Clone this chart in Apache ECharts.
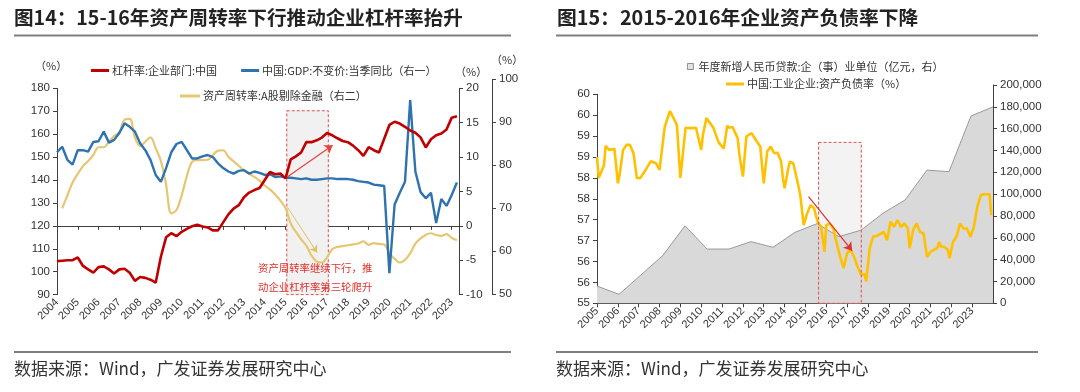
<!DOCTYPE html>
<html><head><meta charset="utf-8">
<script src="https://cdn.jsdelivr.net/npm/echarts@6/dist/echarts.min.js"></script>
<style>html,body{margin:0;padding:0;background:#fff}#c{width:1080px;height:392px}</style>
</head><body><div id="c"></div>
<script>
// ---------- LEFT CHART DATA (quarterly, 2004Q1 - 2023Q2) ----------
const leftYears = [2004,2005,2006,2007,2008,2009,2010,2011,2012,2013,2014,2015,2016,2017,2018,2019,2020,2021,2022,2023];
const quarters = [];
leftYears.forEach(y => { for (let q = 1; q <= 4; q++) { if (y === 2023 && q > 2) break; quarters.push(y + 'Q' + q); } });

const leverage = [
  104.6,104.8,105.0,105.0, 106.2,102.5,101.0,99.6, 102.0,102.3,101.0,99.2, 101.0,101.3,99.5,96.0,
  97.7,97.3,96.5,95.2, 106.5,115.0,116.8,115.5, 117.4,118.7,119.8,120.5, 119.7,119.3,118.0,118.0,
  121.5,125.0,127.5,129.0, 132.5,134.5,135.6,136.5, 140.0,143.5,142.5,142.8, 140.7,149.0,150.3,152.0,
  156.5,156.5,157.3,158.5, 160.5,159.5,158.2,157.0, 156.5,155.0,153.0,150.5, 154.3,153.0,152.0,158.0,
  164.0,165.4,164.6,163.2, 161.6,160.6,158.6,154.2, 157.8,159.5,160.3,162.0, 167.2,167.8
];
const gdp = [
  10.7,11.5,9.6,8.9, 11.0,11.0,10.8,12.2, 12.3,13.7,12.1,12.5, 13.5,14.9,14.4,13.7,
  12.0,11.0,9.6,7.4, 6.4,8.4,10.7,11.9, 12.2,11.0,9.8,9.8, 10.1,10.3,10.0,9.1,
  8.4,7.9,7.6,8.0, 8.1,7.6,7.9,7.7, 7.4,7.5,7.1,7.2, 7.0,7.0,6.9,6.8,
  6.9,6.7,6.7,6.8, 6.9,6.9,6.8,6.8, 6.8,6.7,6.5,6.4, 6.3,6.0,5.9,5.8,
  -6.9,3.1,4.8,6.4, 18.3,7.9,4.9,4.0, 4.8,0.4,3.9,2.9, 4.5,6.3
];
const turnover = [
  null,70.0,73.0,76.0, 78.0,79.8,81.0,82.4, 84.2,84.2,85.5,86.8, 87.7,90.6,90.8,86.5,
  84.5,85.5,86.5,84.0, 81.0,75.5,68.8,69.6, 73.0,77.5,80.8,81.2, 81.2,81.3,82.4,83.4,
  83.5,82.0,80.9,79.9, 78.8,78.0,77.3,76.4, 75.3,74.4,73.2,71.8, 70.0,66.5,64.5,62.8,
  61.3,59.0,57.6,57.4, 58.6,60.5,61.0,61.2, 61.4,61.6,61.8,62.3, 61.5,61.9,61.7,61.6,
  59.5,58.3,57.4,58.0, 59.5,61.8,63.0,63.8, 64.2,63.8,63.6,64.0, 63.1,62.6
];

// ---------- RIGHT CHART DATA ----------
const loanYears = ['2005','2006','2007','2008','2009','2010','2011','2012','2013','2014','2015','2016','2017','2018','2019','2020','2021','2022','2023'];
const newLoans = [15800,8200,26000,44000,71000,49700,49700,56500,51300,65000,73000,61000,67000,82500,94600,122000,120600,171600,180000];

const debtMonths = ['2005-01','2005-02','2005-05','2005-06','2005-08','2005-09','2005-11','2005-12',
 '2006-01','2006-02','2006-04','2006-06','2006-08','2006-10','2006-12','2007-02','2007-05','2007-08','2007-11',
 '2008-01','2008-04','2008-07','2008-08','2008-11','2009-01','2009-04','2009-07','2009-10','2009-11',
 '2010-01','2010-02','2010-04','2010-08','2010-11','2011-02','2011-04','2011-05','2011-07','2011-10','2011-11',
 '2012-01','2012-03','2012-06','2012-09','2012-11','2013-01','2013-03','2013-05','2013-07','2013-09','2013-11','2013-12',
 '2014-01','2014-03','2014-04','2014-06','2014-08','2014-10','2014-12','2015-02','2015-04','2015-06','2015-08','2015-10','2015-12',
 '2016-01','2016-03','2016-05','2016-07','2016-09','2016-11','2017-01','2017-03','2017-05','2017-07','2017-09','2017-11','2017-12',
 '2018-02','2018-04','2018-07','2018-10','2018-12','2019-02','2019-04','2019-06','2019-08','2019-10','2019-12',
 '2020-01','2020-03','2020-05','2020-07','2020-09','2020-11','2021-01','2021-03','2021-05','2021-06','2021-07','2021-09','2021-11','2021-12',
 '2022-02','2022-04','2022-06','2022-08','2022-10','2022-12','2023-02','2023-04','2023-06','2023-08','2023-11','2023-12'];
const debtRatio = [58.5,58.0,58.3,58.77,58.67,58.7,58.7,58.3,
 57.87,58.07,58.67,58.79,58.79,58.59,57.99,58.0,58.19,58.4,58.35,
 58.19,59.22,59.6,59.57,59.27,58.0,59.2,59.19,59.2,59.22,
 58.67,59.03,59.43,59.2,58.85,58.7,59.25,59.2,59.22,58.95,58.55,
 58.03,58.99,59.07,58.87,58.75,57.87,58.63,58.75,58.59,58.6,58.39,58.0,
 57.75,58.2,58.39,58.35,57.99,57.6,56.87,57.15,57.35,57.27,56.95,56.83,56.23,
 56.87,56.91,56.79,56.44,56.11,55.84,56.2,56.28,56.11,55.88,55.68,55.7,55.52,
 56.32,56.59,56.63,56.71,56.51,56.95,56.83,56.99,56.83,56.91,56.79,
 56.32,56.75,56.91,56.71,56.67,56.11,56.23,56.28,56.32,56.47,56.36,56.35,56.28,56.08,
 56.47,56.59,56.91,56.79,56.79,56.59,56.83,57.31,57.59,57.61,57.61,57.11];
const debtAxisLabels = ['55','56','56','57','57','58','58','59','59','60','60'];

// ---------- helpers ----------
const qToNum = s => +s.slice(0,4) + (+s.slice(5) - 1) / 4;
const mToNum = s => +s.slice(0,4) + (+s.slice(5,7) - 1) / 12;
const leftYearTicks = leftYears.slice();
const rightYearTicks = []; for (let y = 2005; y <= 2023; y++) rightYearTicks.push(y);

const AX = '#404040';
const NUM_FONT = 'Liberation Sans, Arial, sans-serif';
const CJK = '"Noto Sans CJK SC", sans-serif';

function xAxisVisible(grid, min, max, ticks) {
  return {
    type: 'value', gridIndex: grid, min: min, max: max,
    splitLine: {show: false},
    axisLine: {lineStyle: {color: AX, width: 1}},
    axisTick: {show: true, length: 4, lineStyle: {color: AX}, customValues: ticks},
    axisLabel: {rotate: 45, fontSize: 11, color: '#333', fontFamily: NUM_FONT, margin: 6, customValues: ticks,
                formatter: v => String(Math.round(v))}
  };
}
function yAxisBase(o) {
  return Object.assign({
    type: 'value', splitLine: {show: false},
    axisLine: {show: true, lineStyle: {color: AX, width: 1}},
    axisTick: {show: true, length: 4, lineStyle: {color: AX}},
    axisLabel: {fontSize: 11.5, color: '#333', fontFamily: NUM_FONT, margin: 7}
  }, o);
}

const chart = echarts.init(document.getElementById('c'), null, {renderer: 'canvas'});
const option = {
  animation: false,
  backgroundColor: '#fff',
  grid: [
    {left: 57, top: 88.3, width: 402, height: 206.3},
    {left: 57, top: 79.3, width: 402, height: 215},
    {left: 597, top: 94.3, width: 396, height: 209},
    {left: 597, top: 85, width: 396, height: 218.3}
  ],
  xAxis: [
    xAxisVisible(0, 2004, 2023.35, leftYearTicks),
    {type: 'value', gridIndex: 1, min: 2004, max: 2023.35, show: false},
    xAxisVisible(2, 2005, 2024, rightYearTicks),
    {type: 'category', gridIndex: 3, data: loanYears, boundaryGap: false, show: false}
  ],
  yAxis: [
    yAxisBase({gridIndex: 0, position: 'left', min: 90, max: 180, interval: 10}),
    yAxisBase({gridIndex: 0, position: 'right', min: -10, max: 20, interval: 5}),
    yAxisBase({gridIndex: 1, position: 'right', offset: 33, min: 50, max: 100, interval: 10}),
    yAxisBase({gridIndex: 2, position: 'left', min: 55, max: 60, interval: 0.5,
      axisLabel: {fontSize: 11.5, color: '#333', fontFamily: NUM_FONT, margin: 7,
        formatter: (v) => debtAxisLabels[Math.round((v - 55) * 2)]}}),
    yAxisBase({gridIndex: 3, position: 'right', min: 0, max: 200000, interval: 20000,
      axisLabel: {fontSize: 11.5, color: '#333', fontFamily: NUM_FONT, margin: 7,
        formatter: v => v.toLocaleString('en-US')}})
  ],
  legend: [
    {left: 86, top: 60, itemWidth: 18, itemHeight: 3, itemGap: 24, icon: 'rect',
     textStyle: {fontSize: 11, color: '#333', fontFamily: CJK, padding: [0,0,0,-2]},
     data: ['杠杆率:企业部门:中国', '中国:GDP:不变价:当季同比（右一）']},
    {left: 175, top: 85.5, itemWidth: 20, itemHeight: 3, icon: 'rect',
     textStyle: {fontSize: 11, color: '#333', fontFamily: CJK, padding: [0,0,0,-2]},
     data: ['资产周转率:A股剔除金融（右二）']},
    {left: 682, top: 56, itemWidth: 6, itemHeight: 6, icon: 'rect',
     textStyle: {fontSize: 11, color: '#333', fontFamily: CJK},
     data: [{name: '年度新增人民币贷款:企（事）业单位（亿元，右）', itemStyle: {color: '#e3e3e3', borderColor: '#777', borderWidth: 0.8}}]},
    {left: 721, top: 73.5, itemWidth: 18, itemHeight: 3, icon: 'rect',
     textStyle: {fontSize: 11, color: '#333', fontFamily: CJK, padding: [0,0,0,-2]},
     data: ['中国:工业企业:资产负债率（%）']}
  ],
  series: [
    {type: 'line', name: '_boxL', xAxisIndex: 0, yAxisIndex: 0, data: [], z: 1, silent: true,
     markArea: {silent: true, z: 1, itemStyle: {color: '#f1f1f1', borderColor: '#e05050', borderWidth: 1, borderType: [3, 2]},
       data: [[{coord: [2015.06, 170.2]}, {coord: [2017.06, 90]}]]}},
    {type: 'line', name: '杠杆率:企业部门:中国', xAxisIndex: 0, yAxisIndex: 0, z: 4,
     data: quarters.map((q, i) => [qToNum(q), leverage[i]]),
     symbol: 'none', lineStyle: {color: '#C00000', width: 2.6}, itemStyle: {color: '#C00000'},
     markLine: {silent: true, symbol: ['none', 'arrow'], symbolSize: 8, label: {show: false},
       lineStyle: {color: '#e8413a', width: 1.2, type: 'solid'},
       data: [[{coord: [2015.08, 141.3]}, {coord: [2017.27, 155.2]}]]}},
    {type: 'line', name: '中国:GDP:不变价:当季同比（右一）', xAxisIndex: 0, yAxisIndex: 1, z: 3,
     data: quarters.map((q, i) => [qToNum(q), gdp[i]]),
     symbol: 'none', lineStyle: {color: '#2E72B0', width: 2.4}, itemStyle: {color: '#2E72B0'}},
    {type: 'line', name: '资产周转率:A股剔除金融（右二）', xAxisIndex: 1, yAxisIndex: 2, z: 2,
     data: quarters.map((q, i) => [qToNum(q), turnover[i]]), smooth: 0.35, connectNulls: false,
     symbol: 'none', lineStyle: {color: '#E6C670', width: 2.2}, itemStyle: {color: '#E6C670'},
     markLine: {silent: true, symbol: ['none', 'arrow'], symbolSize: 7, label: {show: false},
       lineStyle: {color: '#e0c060', width: 1, type: 'solid'},
       data: [[{coord: [2015.1, 70.2]}, {coord: [2016.52, 59.7]}]]}},
    {type: 'line', name: '_boxR', xAxisIndex: 2, yAxisIndex: 3, data: [], z: 1, silent: true,
     markArea: {silent: true, z: 1, itemStyle: {color: '#f3f3f3'},
       data: [[{coord: [2015.63, 58.85]}, {coord: [2017.68, 55]}]]}},
    {type: 'line', name: '年度新增人民币贷款:企（事）业单位（亿元，右）', xAxisIndex: 3, yAxisIndex: 4, z: 2,
     data: newLoans, symbol: 'none',
     lineStyle: {color: '#9a9a9a', width: 1}, itemStyle: {color: '#d9d9d9'},
     areaStyle: {color: '#d9d9d9', opacity: 1}},
    {type: 'line', name: '中国:工业企业:资产负债率（%）', xAxisIndex: 2, yAxisIndex: 3, z: 4,
     data: debtMonths.map((m, i) => [mToNum(m), debtRatio[i]]),
     symbol: 'none', lineStyle: {color: '#FFC000', width: 2.6}, itemStyle: {color: '#FFC000'},
     markArea: {silent: true, z: 5, itemStyle: {color: 'rgba(0,0,0,0)', borderColor: '#e05050', borderWidth: 1, borderType: [3, 2]},
       data: [[{coord: [2015.63, 58.85]}, {coord: [2017.68, 55]}]]},
     markLine: {silent: true, symbol: ['none', 'arrow'], symbolSize: 8, label: {show: false},
       lineStyle: {color: '#e0302a', width: 1.2, type: 'solid'},
       data: [[{coord: [2015.15, 57.55]}, {coord: [2017.24, 56.26]}]]}}
  ],
  graphic: [
    {type: 'text', z: 100, left: 14, top: 8, style: {text: '图14：15-16年资产周转率下行推动企业杠杆率抬升', font: 'bold 19.6px "Noto Sans CJK SC"', fill: '#222'}},
    {type: 'text', z: 100, left: 557, top: 8, style: {text: '图15：2015-2016年企业资产负债率下降', font: 'bold 19.8px "Noto Sans CJK SC"', fill: '#222'}},
    {type: 'rect', z: 100, shape: {x: 14, y: 34.5, width: 497, height: 2}, style: {fill: '#7f7f7f'}},
    {type: 'rect', z: 100, shape: {x: 556, y: 34.5, width: 482, height: 2}, style: {fill: '#7f7f7f'}},
    {type: 'rect', z: 100, shape: {x: 14, y: 351, width: 497, height: 2}, style: {fill: '#7f7f7f'}},
    {type: 'rect', z: 100, shape: {x: 556, y: 351, width: 482, height: 2}, style: {fill: '#7f7f7f'}},
    {type: 'text', z: 100, left: 14, top: 360, style: {text: '数据来源：Wind，广发证券发展研究中心', font: '17px "Noto Sans CJK SC"', fill: '#333'}},
    {type: 'text', z: 100, left: 556, top: 360, style: {text: '数据来源：Wind，广发证券发展研究中心', font: '17px "Noto Sans CJK SC"', fill: '#333'}},
    {type: 'text', z: 100, left: 35, top: 60, style: {text: '（%）', font: '11px "Noto Sans CJK SC"', fill: '#333'}},
    {type: 'text', z: 100, left: 455, top: 66, style: {text: '（%）', font: '11px "Noto Sans CJK SC"', fill: '#333'}},
    {type: 'text', z: 100, left: 491, top: 54, style: {text: '（%）', font: '11px "Noto Sans CJK SC"', fill: '#333'}},
    {type: 'text', z: 100, left: 258, top: 263, style: {text: '资产周转率继续下行，推', font: '10.4px "Noto Sans CJK SC"', fill: '#e0302a'}},
    {type: 'text', z: 100, left: 258, top: 282, style: {text: '动企业杠杆率第三轮爬升', font: '10.4px "Noto Sans CJK SC"', fill: '#e0302a'}}
  ]
};
chart.setOption(option);
</script>
</body></html>
